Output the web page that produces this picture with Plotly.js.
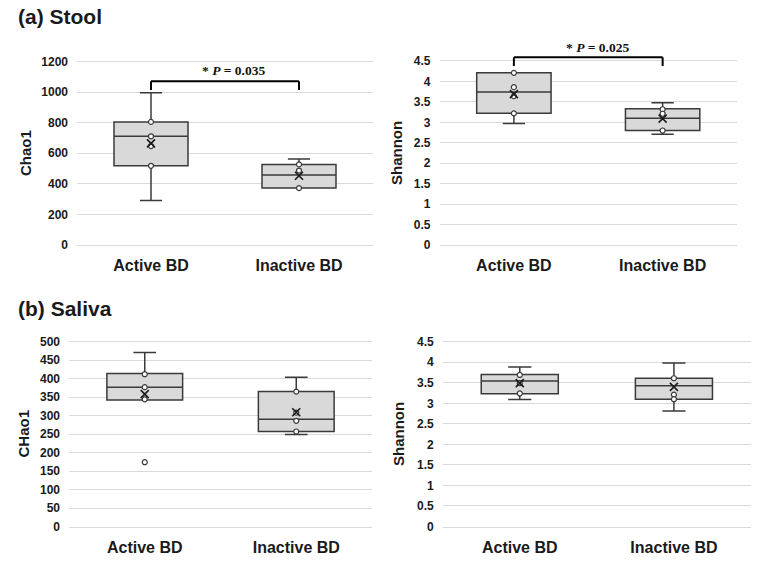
<!DOCTYPE html>
<html>
<head>
<meta charset="utf-8">
<script src="https://cdn.plot.ly/plotly-3.0.1.min.js"></script>
<style>html,body{margin:0;padding:0;background:#fff;}#chart{width:763px;height:561px;}</style>
</head>
<body>
<div id="chart"></div>
<script>
// ---------- data ----------
const categories = ['Active BD', 'Inactive BD'];

// (a) Stool - Chao1
const stoolChaoMin    = [291, 372];
const stoolChaoQ1     = [518, 372];
const stoolChaoMedian = [711, 457];
const stoolChaoQ3     = [805, 527];
const stoolChaoMax    = [995, 562];
const stoolChaoMean   = [665, 453];
const stoolChaoPtsActive   = [805, 711, 647, 518];
const stoolChaoPtsInactive = [527, 487, 372];

// (a) Stool - Shannon
const stoolShanMin    = [2.97, 2.71];
const stoolShanQ1     = [3.22, 2.80];
const stoolShanMedian = [3.74, 3.10];
const stoolShanQ3     = [4.21, 3.33];
const stoolShanMax    = [4.21, 3.48];
const stoolShanMean   = [3.69, 3.09];
const stoolShanPtsActive   = [4.21, 3.86, 3.64, 3.22];
const stoolShanPtsInactive = [3.32, 3.21, 2.80];

// (b) Saliva - Chao1
const salChaoMin    = [342, 249];
const salChaoQ1     = [342, 257];
const salChaoMedian = [377, 290];
const salChaoQ3     = [414, 365];
const salChaoMax    = [471, 404];
const salChaoMean   = [358, 309];
const salChaoPtsActive   = [412, 377, 344];
const salChaoOutActive   = [174];
const salChaoPtsInactive = [365, 308, 286, 257];

// (b) Saliva - Shannon
const salShanMin    = [3.09, 2.81];
const salShanQ1     = [3.23, 3.10];
const salShanMedian = [3.54, 3.43];
const salShanQ3     = [3.70, 3.61];
const salShanMax    = [3.885, 3.98];
const salShanMean   = [3.49, 3.40];
const salShanPtsActive   = [3.69, 3.49, 3.24];
const salShanPtsInactive = [3.61, 3.21, 3.10];

const pStoolChao = '* <i>P</i> = 0.035';
const pStoolShan = '* <i>P</i> = 0.025';

// ---------- styling ----------
const LINE = '#3a3a3a';
const FILL = '#d9d9d9';
const GRID = '#d9d9d9';
const TXT = '#1a1a1a';
const SANS = 'Liberation Sans, Arial, sans-serif';
const SERIF = 'Liberation Serif, Times New Roman, serif';

function boxTrace(ax, ay, q1, med, q3, lo, hi) {
  return {
    type: 'box', xaxis: ax, yaxis: ay,
    x: categories, q1: q1, median: med, q3: q3, lowerfence: lo, upperfence: hi,
    boxpoints: false, width: 0.5, whiskerwidth: 0.3,
    fillcolor: FILL, line: {color: LINE, width: 1.5},
    hoverinfo: 'skip', showlegend: false
  };
}
function ptsTrace(ax, ay, cat, vals) {
  return {
    type: 'scatter', mode: 'markers', xaxis: ax, yaxis: ay,
    x: vals.map(() => cat), y: vals,
    marker: {symbol: 'circle', size: 5, color: '#ffffff', line: {color: LINE, width: 1.2}},
    hoverinfo: 'skip', showlegend: false, cliponaxis: false
  };
}
function meanTrace(ax, ay, vals) {
  return {
    type: 'scatter', mode: 'markers', xaxis: ax, yaxis: ay,
    x: categories, y: vals,
    marker: {symbol: 'x-thin-open', size: 8, color: '#1a1a1a', line: {color: '#1a1a1a', width: 1.6}},
    hoverinfo: 'skip', showlegend: false
  };
}

const data = [
  boxTrace('x', 'y', stoolChaoQ1, stoolChaoMedian, stoolChaoQ3, stoolChaoMin, stoolChaoMax),
  ptsTrace('x', 'y', categories[0], stoolChaoPtsActive),
  ptsTrace('x', 'y', categories[1], stoolChaoPtsInactive),
  meanTrace('x', 'y', stoolChaoMean),

  boxTrace('x2', 'y2', stoolShanQ1, stoolShanMedian, stoolShanQ3, stoolShanMin, stoolShanMax),
  ptsTrace('x2', 'y2', categories[0], stoolShanPtsActive),
  ptsTrace('x2', 'y2', categories[1], stoolShanPtsInactive),
  meanTrace('x2', 'y2', stoolShanMean),

  boxTrace('x3', 'y3', salChaoQ1, salChaoMedian, salChaoQ3, salChaoMin, salChaoMax),
  ptsTrace('x3', 'y3', categories[0], salChaoPtsActive),
  ptsTrace('x3', 'y3', categories[0], salChaoOutActive),
  ptsTrace('x3', 'y3', categories[1], salChaoPtsInactive),
  meanTrace('x3', 'y3', salChaoMean),

  boxTrace('x4', 'y4', salShanQ1, salShanMedian, salShanQ3, salShanMin, salShanMax),
  ptsTrace('x4', 'y4', categories[0], salShanPtsActive),
  ptsTrace('x4', 'y4', categories[1], salShanPtsInactive),
  meanTrace('x4', 'y4', salShanMean)
];

function xAx(domain, anchor) {
  return {
    domain: domain, anchor: anchor, type: 'category', range: [-0.5, 1.5],
    showgrid: false, zeroline: false, showline: true, mirror: true,
    linecolor: GRID, linewidth: 1, ticks: '', ticklabelstandoff: 6,
    tickfont: {family: SANS, size: 16, color: TXT, weight: 'bold'},
    fixedrange: true
  };
}
function yAx(domain, anchor, range, dtick) {
  return {
    domain: domain, anchor: anchor, range: range, dtick: dtick, tick0: 0,
    showgrid: true, gridcolor: GRID, gridwidth: 1, zeroline: false,
    showline: false, ticks: '', ticklabelstandoff: 8,
    tickfont: {family: SANS, size: 12, color: TXT, weight: 'bold'},
    fixedrange: true
  };
}

const W = 763, H = 561;
const px = v => v / W;
const py = v => 1 - v / H;

function ann(text, x, y, opts) {
  return Object.assign({
    text: text, xref: 'paper', yref: 'paper', x: x, y: y,
    showarrow: false, xanchor: 'center', yanchor: 'middle',
    font: {family: SANS, size: 15, color: TXT, weight: 'bold'}
  }, opts || {});
}

function bracket(xref, yTop, yArm) {
  const st = {color: '#000000', width: 2};
  return [
    {type: 'line', xref: xref, yref: 'paper', x0: categories[0], x1: categories[1], y0: yTop, y1: yTop, line: st},
    {type: 'line', xref: xref, yref: 'paper', x0: categories[0], x1: categories[0], y0: yTop, y1: yArm, line: st},
    {type: 'line', xref: xref, yref: 'paper', x0: categories[1], x1: categories[1], y0: yTop, y1: yArm, line: st}
  ];
}

const layout = {
  width: W, height: H,
  margin: {l: 0, r: 0, t: 0, b: 0},
  paper_bgcolor: '#ffffff', plot_bgcolor: '#ffffff',
  showlegend: false,
  xaxis:  xAx([px(77), px(373)], 'y'),
  yaxis:  yAx([py(245), py(61.5)], 'x', [0, 1200], 200),
  xaxis2: xAx([px(439.5), px(737)], 'y2'),
  yaxis2: yAx([py(245), py(61)], 'x2', [0, 4.5], 0.5),
  xaxis3: xAx([px(69), px(372)], 'y3'),
  yaxis3: yAx([py(526.5), py(341.7)], 'x3', [0, 500], 50),
  xaxis4: xAx([px(442.7), px(751)], 'y4'),
  yaxis4: yAx([py(526.5), py(341.7)], 'x4', [0, 4.5], 0.5),
  shapes: [].concat(
    bracket('x', py(81.3), py(90)),
    bracket('x2', py(57.3), py(66))
  ),
  annotations: [
    ann('(a) Stool', px(16), py(17), {xanchor: 'left', font: {family: SANS, size: 21, color: TXT, weight: 'bold'}}),
    ann('(b) Saliva', px(16), py(308.5), {xanchor: 'left', font: {family: SANS, size: 21, color: TXT, weight: 'bold'}}),
    ann('Chao1', px(25), py(153), {textangle: -90}),
    ann('Shannon', px(396), py(153), {textangle: -90}),
    ann('CHao1', px(23.5), py(434), {textangle: -90}),
    ann('Shannon', px(399), py(434), {textangle: -90}),
    ann(pStoolChao, px(234), py(70.7), {font: {family: SERIF, size: 13.5, color: '#111111', weight: 'bold'}}),
    ann(pStoolShan, px(597.5), py(47.3), {font: {family: SERIF, size: 13.5, color: '#111111', weight: 'bold'}})
  ]
};

Plotly.newPlot('chart', data, layout, {staticPlot: true, displayModeBar: false});
</script>
</body>
</html>
